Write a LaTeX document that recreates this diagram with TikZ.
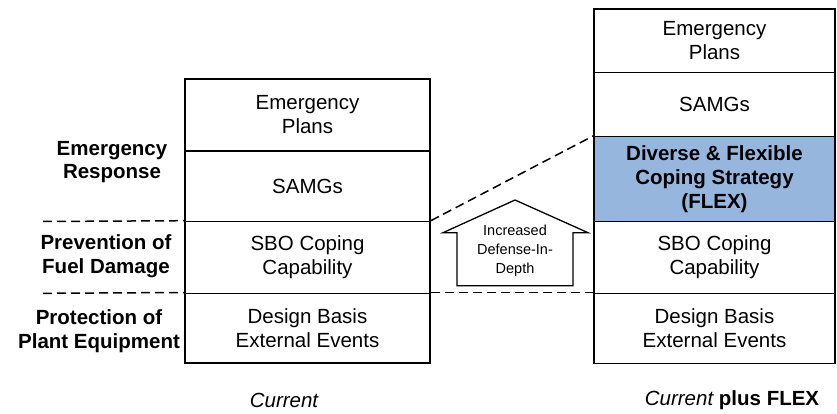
\documentclass[tikz,border=0pt]{standalone}
\usepackage{fontspec}
\setmainfont{Liberation Sans}
\definecolor{flexblue}{RGB}{151,182,222}
\begin{document}
\begin{tikzpicture}[x=1pt,y=-1pt,
  cell/.style={draw=black,line width=1.6pt,inner sep=0pt,align=center,
    font=\fontsize{20.5}{24}\selectfont},
  lab/.style={align=center,font=\fontsize{20.5}{23.5}\selectfont\bfseries},
  dashln/.style={line width=1.5pt,dash pattern=on 9pt off 5pt},
  captxt/.style={font=\fontsize{20.5}{24}\selectfont}]
\useasboundingbox (0,0) rectangle (837,414);
% left column
\node[cell,minimum width=245pt,minimum height=72pt] (L1) at (307.5,115) {Emergency\\Plans};
\node[cell,minimum width=245pt,minimum height=70.5pt] (L2) at (307.5,186.25) {SAMGs};
\node[cell,minimum width=245pt,minimum height=71.8pt] (L3) at (307.5,257.4) {SBO Coping\\Capability};
\node[cell,minimum width=245pt,minimum height=69.7pt] (L4) at (307.5,328.15) {Design Basis\\External Events};
% right column
\node[cell,minimum width=241pt,minimum height=63.7pt] (R1) at (714.5,40.85) {Emergency\\Plans};
\node[cell,minimum width=241pt,minimum height=64pt] (R2) at (714.5,104.7) {SAMGs};
\node[cell,fill=flexblue,minimum width=241pt,minimum height=84.8pt,font=\fontsize{20.5}{24}\selectfont\bfseries] (R3) at (714.5,179.1) {Diverse \& Flexible\\Coping Strategy\\(FLEX)};
\node[cell,minimum width=241pt,minimum height=71.8pt] (R4) at (714.5,257.4) {SBO Coping\\Capability};
\node[cell,minimum width=241pt,minimum height=70pt] (R5) at (714.5,328.3) {Design Basis\\External Events};
% left labels
\node[lab] (ER) at (112,162) {Emergency\\Response};
\node[lab] (PF) at (106,256) {Prevention of\\Fuel Damage};
\node[lab] (PP) at (99,331) {Protection of\\Plant Equipment};
\coordinate (d1) at (43,221.5);
\coordinate (d2) at (43,293.3);
\draw[dashln] (d1) -- (L3.north west);
\draw[dashln] (d2) -- (L4.north west);
% connecting dashed lines
\draw[dashln] (L3.north east) -- (R3.north west);
\draw[dashln] (L4.north east) -- (R5.north west);
% block arrow
\draw[line width=1.3pt,fill=white] (457,285.7) -- (457,232.7) -- (443,232.7) -- (515,200) -- (588,232.7) -- (573,232.7) -- (573,285.7) -- cycle;
\node[align=center,font=\fontsize{14.5}{19}\selectfont] (arr) at (515,251) {Increased\\Defense-In-\\Depth};
% captions
\node[captxt] (c1) at (284,400) {\itshape Current};
\node[captxt] (c2) at (732,400) {\itshape Current\upshape\ \bfseries plus FLEX};
\end{tikzpicture}
\end{document}
